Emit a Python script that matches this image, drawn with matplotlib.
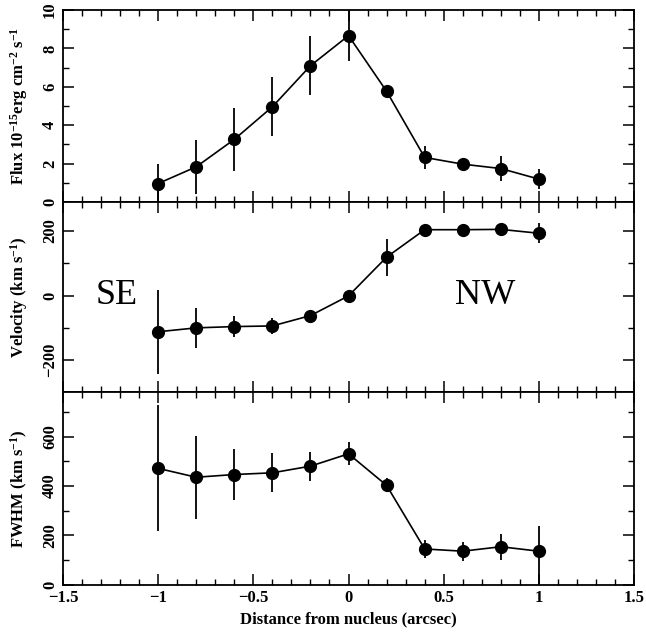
import matplotlib.pyplot as plt
from matplotlib.ticker import MultipleLocator

# Daten
dist = [-1.0, -0.8, -0.6, -0.4, -0.2, 0.0, 0.2, 0.4, 0.6, 0.8, 1.0]

flux = [0.96, 1.83, 3.26, 4.96, 7.10, 8.67, 5.77, 2.32, 1.97, 1.74, 1.19]
flux_err = [1.0, 1.4, 1.63, 1.53, 1.53, 1.3, 0.1, 0.6, 0.3, 0.63, 0.53]

vel = [-112, -100, -96, -94, -62, -1, 119, 204, 204, 205, 193]
vel_err = [130, 63, 32, 25, 8, 12, 57, 5, 5, 15, 31]

fwhm = [472, 436, 447, 454, 481, 531, 403, 145, 136, 154, 136]
fwhm_err_lo = [256, 169, 103, 79, 59, 46, 28, 37, 38, 52, 136]
fwhm_err_hi = [256, 169, 103, 79, 59, 46, 28, 37, 38, 52, 104]

plt.rcParams['font.family'] = ['Liberation Serif', 'DejaVu Serif']
plt.rcParams['font.weight'] = 'bold'
plt.rcParams['axes.labelweight'] = 'bold'
plt.rcParams['mathtext.fontset'] = 'custom'
plt.rcParams['mathtext.rm'] = 'Liberation Serif:bold'
plt.rcParams['mathtext.default'] = 'rm'

fig = plt.figure(figsize=(6.46, 6.33), dpi=100)
left, width = 0.0975, 0.884
ax1 = fig.add_axes([left, 0.681, width, 0.303])
ax2 = fig.add_axes([left, 0.380, width, 0.301])
ax3 = fig.add_axes([left, 0.0763, width, 0.3037])

style = dict(fmt='o-', color='black', ms=8.5, lw=1.2, elinewidth=1.3, capsize=0)
ax1.errorbar(dist, flux, yerr=flux_err, **style)
ax2.errorbar(dist, vel, yerr=vel_err, **style)
ax3.errorbar(dist, fwhm, yerr=[fwhm_err_lo, fwhm_err_hi], **style)

ax1.set_ylim(0, 10)
ax2.set_ylim(-300, 290)
ax3.set_ylim(0, 780)

ax1.yaxis.set_major_locator(MultipleLocator(2))
ax1.yaxis.set_minor_locator(MultipleLocator(1))
ax2.yaxis.set_major_locator(MultipleLocator(200))
ax2.yaxis.set_minor_locator(MultipleLocator(100))
ax3.yaxis.set_major_locator(MultipleLocator(200))
ax3.yaxis.set_minor_locator(MultipleLocator(100))

for ax in (ax1, ax2, ax3):
    ax.set_xlim(-1.5, 1.5)
    ax.xaxis.set_major_locator(MultipleLocator(0.5))
    ax.xaxis.set_minor_locator(MultipleLocator(0.1))
    ax.tick_params(which='both', direction='in', top=True, right=True, labelsize=12)
    ax.tick_params(which='major', length=8, width=1.1)
    ax.tick_params(which='minor', length=4, width=1.0)
    ax.tick_params(axis='y', labelrotation=90)
    for lab in ax.get_yticklabels():
        lab.set_va('center')
    for s in ax.spines.values():
        s.set_linewidth(1.3)

ax1.tick_params(labelbottom=False)
ax2.tick_params(labelbottom=False)
ax3.set_xticks([-1.5, -1, -0.5, 0, 0.5, 1, 1.5])
ax3.set_xticklabels(['\u22121.5', '\u22121', '\u22120.5', '0', '0.5', '1', '1.5'])
ax2.set_yticks([-200, 0, 200])
ax2.set_yticklabels(['\u2212200', '0', '200'])

ax1.set_ylabel(r'Flux 10$^{-15}$erg cm$^{-2}$ s$^{-1}$', fontsize=12)
ax2.set_ylabel(r'Velocity (km s$^{-1}$)', fontsize=12)
ax3.set_ylabel(r'FWHM (km s$^{-1}$)', fontsize=12)
ax3.set_xlabel('Distance from nucleus (arcsec)', fontsize=12)
for ax in (ax1, ax2, ax3):
    ax.yaxis.set_label_coords(-0.058, 0.5)

ax2.text(-1.33, 0, 'SE', fontsize=26, va='center', ha='left', fontweight='normal')
ax2.text(0.56, 0, 'NW', fontsize=26, va='center', ha='left', fontweight='normal')

fig.savefig('out.png', dpi=100)
